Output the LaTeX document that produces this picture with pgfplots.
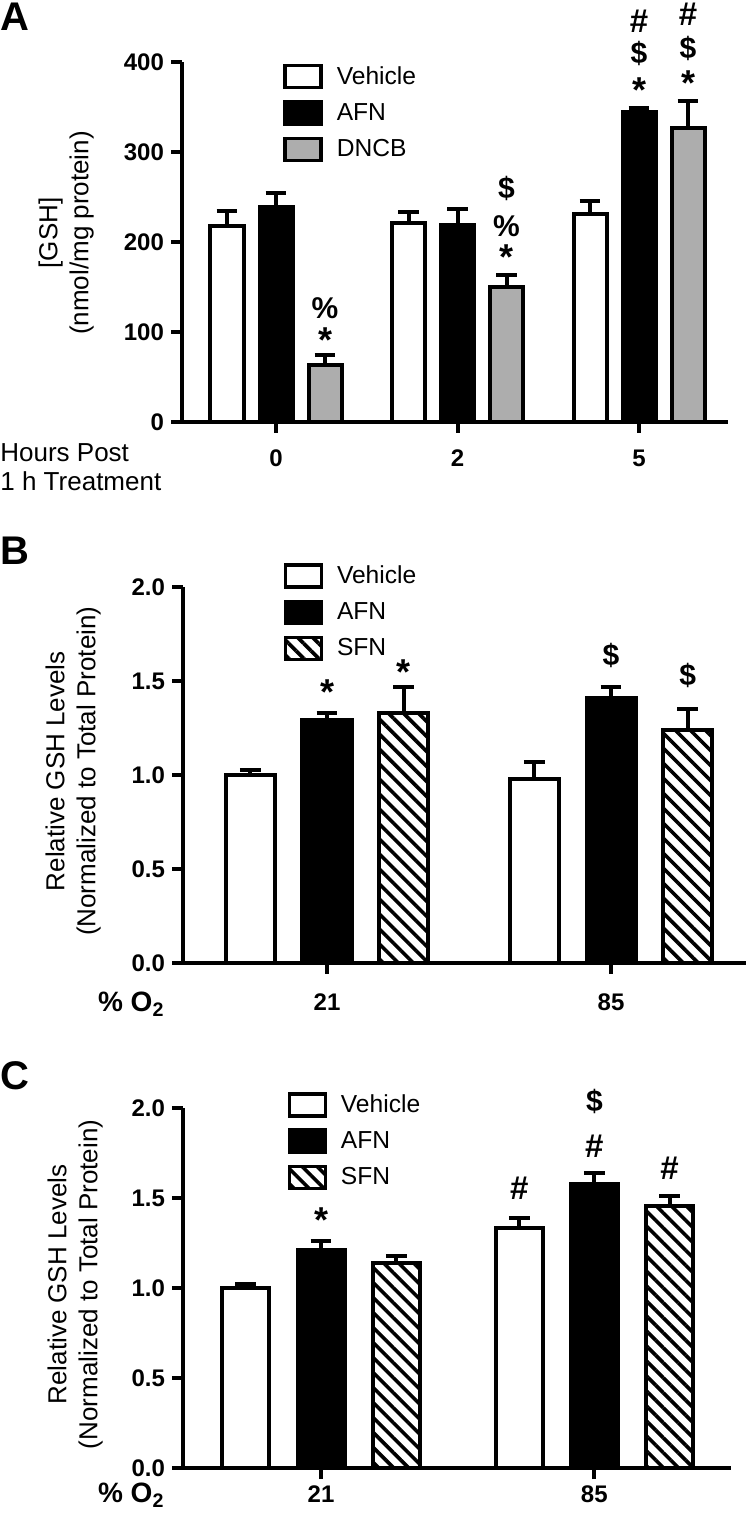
\documentclass[border=0pt]{standalone}
\usepackage{pgfplots}
\pgfplotsset{compat=1.18}
\usepackage{fontspec}
\setmainfont{Liberation Sans}
\usetikzlibrary{patterns.meta}

\definecolor{dncbgray}{gray}{0.68}

\tikzset{
  annot/.style={font=\fontsize{15}{16}\selectfont\bfseries, inner sep=0pt},
  hashmark/.style={font=\fontsize{16.5}{18}\selectfont\bfseries, inner sep=0pt},
  star/.style={font=\fontsize{18}{20}\selectfont\bfseries, inner sep=0pt},
  panel/.style={anchor=west, font=\fontsize{20}{22}\selectfont\bfseries, inner sep=0pt},
}

\pgfplotsset{
  gsh/.style={
    scale only axis,
    axis lines*=left,
    axis line style={line width=2pt},
    every tick/.style={black, line width=2pt},
    tick align=outside,
    major tick length=5.5pt,
    clip=false,
    ymin=0,
    /pgf/number format/assume math mode=true,
    tick label style={font=\fontsize{12}{14}\selectfont\bfseries},
    ylabel style={font=\fontsize{13}{15.5}\selectfont, align=center, anchor=center},
    legend style={draw=none, fill=none, inner sep=0pt, anchor=north west,
      font=\fontsize{12.3}{14}\selectfont, row sep=4pt,
      /tikz/every odd column/.append style={column sep=5pt}},
    legend cell align=left,
    legend image code/.code={\draw[#1, line width=1.7pt] (0pt,-5.5pt) rectangle (18pt,5.5pt);},
  },
  gbar/.style={ybar, draw=black, line width=2pt, bar width=#1,
    error bars/y dir=plus, error bars/y explicit,
    error bars/error bar style={line width=2pt, black},
    error bars/error mark options={rotate=90, line width=2pt, mark size=5.2pt, black}},
  hatch/.style={postaction={pattern={Lines[angle=-45, distance=5.3pt, line width=1.8pt]}}},
}

\begin{document}
\begin{tikzpicture}
\useasboundingbox (0,0) rectangle (374.5pt,762pt);

% ---------------- panel A
\node[panel] at (0pt,753.5pt) {A};
\node[anchor=west, align=left, inner sep=0pt, font=\fontsize{13}{14.5}\selectfont] at (0pt,528.5pt) {Hours Post\\1 h Treatment};
\begin{axis}[gsh,
  at={(91pt,551pt)}, anchor=south west,
  width=273pt, height=180pt,
  xmin=-0.518, xmax=2.49, ymax=400,
  ytick={0,100,200,300,400},
  xtick={0,1,2}, xticklabels={0,2,5},
  xticklabel style={yshift=-5pt},
  ylabel={[GSH]\\(nmol/mg protein)},
  ylabel style={at={(axis description cs:-0.212,0.525)}},
  legend style={at={(0.185,1.0)}}]
\addplot[gbar=0.182, fill=white] coordinates {(-0.27,218) +- (0,16) (0.73,221) +- (0,12) (1.73,231) +- (0,15)};
\addlegendentry{Vehicle}
\addplot[gbar=0.182, fill=black] coordinates {(0,239) +- (0,15) (1,219) +- (0,18) (2,344) +- (0,5)};
\addlegendentry{AFN}
\addplot[gbar=0.182, fill=dncbgray] coordinates {(0.27,63) +- (0,11) (1.27,150) +- (0,13) (2.27,327) +- (0,30)};
\addlegendentry{DNCB}
\node[annot] at (axis cs:0.27,127) {\%};
\node[star] at (axis cs:0.27,91) {*};
\node[annot] at (axis cs:1.27,259) {\$};
\node[annot] at (axis cs:1.27,218) {\%};
\node[star] at (axis cs:1.27,183) {*};
\node[hashmark] at (axis cs:2,445) {\#};
\node[annot] at (axis cs:2,409) {\$};
\node[star] at (axis cs:2,369) {*};
\node[hashmark] at (axis cs:2.27,453) {\#};
\node[annot] at (axis cs:2.27,415) {\$};
\node[star] at (axis cs:2.27,376) {*};
\end{axis}

% ---------------- panel B
\node[panel] at (0pt,486.5pt) {B};
\node[anchor=base west, font=\fontsize{14}{16}\selectfont\bfseries] at (45.5pt,256pt) {\% O$_{\mathbf{2}}$};
\begin{axis}[gsh,
  at={(91.5pt,280.5pt)}, anchor=south west,
  width=281.5pt, height=188pt,
  xmin=-0.507, xmax=1.475, ymax=2,
  ytick={0,0.5,1,1.5,2},
  yticklabel style={/pgf/number format/.cd, fixed, fixed zerofill, precision=1},
  xtick={0,1}, xticklabels={21,85},
  xticklabel style={yshift=-6.5pt},
  ylabel={Relative GSH Levels\\(Normalized to Total Protein)},
  ylabel style={at={(axis description cs:-0.195,0.51)}},
  legend style={at={(0.178,1.069)}}]
\addplot[gbar=0.173, fill=white] coordinates {(-0.27,1.00) +- (0,0.025) (0.73,0.98) +- (0,0.09)};
\addlegendentry{Vehicle}
\addplot[gbar=0.173, fill=black] coordinates {(0,1.29) +- (0,0.04) (1,1.41) +- (0,0.06)};
\addlegendentry{AFN}
\addplot[gbar=0.173, fill=white, hatch] coordinates {(0.27,1.33) +- (0,0.14) (1.27,1.24) +- (0,0.11)};
\addlegendentry{SFN}
\node[star] at (axis cs:0,1.44) {*};
\node[star] at (axis cs:0.27,1.547) {*};
\node[annot] at (axis cs:1,1.638) {\$};
\node[annot] at (axis cs:1.27,1.527) {\$};
\end{axis}

% ---------------- panel C
\node[panel] at (0pt,224pt) {C};
\node[anchor=base west, font=\fontsize{14}{16}\selectfont\bfseries] at (45.5pt,10.5pt) {\% O$_{\mathbf{2}}$};
\begin{axis}[gsh,
  at={(91.5pt,28pt)}, anchor=south west,
  width=274pt, height=180pt,
  xmin=-0.505, xmax=1.5, ymax=2,
  ytick={0,0.5,1,1.5,2},
  yticklabel style={/pgf/number format/.cd, fixed, fixed zerofill, precision=1},
  xtick={0,1}, xticklabels={21,85},
  xticklabel style={yshift=0pt},
  ylabel={Relative GSH Levels\\(Normalized to Total Protein)},
  ylabel style={at={(axis description cs:-0.197,0.51)}},
  legend style={at={(0.19,1.05)}}]
\addplot[gbar=0.172, fill=white] coordinates {(-0.275,1.00) +- (0,0.02) (0.725,1.335) +- (0,0.055)};
\addlegendentry{Vehicle}
\addplot[gbar=0.172, fill=black] coordinates {(0,1.21) +- (0,0.05) (1,1.58) +- (0,0.06)};
\addlegendentry{AFN}
\addplot[gbar=0.172, fill=white, hatch] coordinates {(0.275,1.14) +- (0,0.04) (1.275,1.455) +- (0,0.055)};
\addlegendentry{SFN}
\node[star] at (axis cs:0,1.379) {*};
\node[hashmark] at (axis cs:0.725,1.555) {\#};
\node[hashmark] at (axis cs:1,1.79) {\#};
\node[annot] at (axis cs:1,2.037) {\$};
\node[hashmark] at (axis cs:1.275,1.666) {\#};
\end{axis}
\end{tikzpicture}
\end{document}
